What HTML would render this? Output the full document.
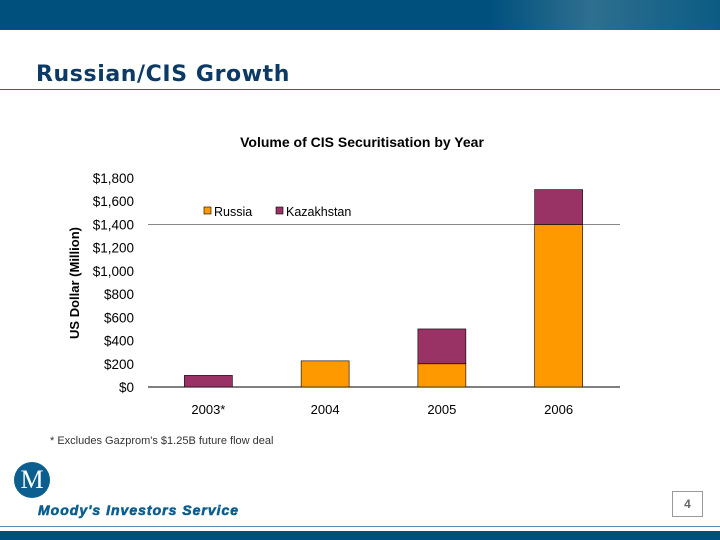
<!DOCTYPE html>
<html><head><meta charset="utf-8"><style>
body{margin:0;width:720px;height:540px;background:#fff;position:relative;overflow:hidden;font-family:"Liberation Sans",sans-serif}
.abs{position:absolute}
</style></head><body>
<div class="abs" style="left:0;top:0;width:720px;height:30px;background:linear-gradient(90deg,#00507e 0%,#00507e 68%,#2f6f8f 82%,#0b5c84 100%)"></div>
<div class="abs" style="left:36px;top:62px;font-family:'DejaVu Sans',sans-serif;font-weight:bold;font-size:22px;letter-spacing:0.6px;color:#0b3a66">Russian/CIS Growth</div>
<div class="abs" style="left:0;top:89px;width:720px;height:1px;background:#2a6a86"></div>
<svg class="abs" style="left:0;top:0" width="720" height="540">
<text x="362" y="147" text-anchor="middle" font-size="14" font-weight="bold" fill="#000">Volume of CIS Securitisation by Year</text>
<text transform="translate(79,283) rotate(-90)" text-anchor="middle" font-size="13" font-weight="bold">US Dollar (Million)</text>
<g id="ticks"></g><g id="bars"></g>
<g>
<rect x="204" y="207" width="7" height="7" fill="#ff9900" stroke="#000" stroke-width="0.6"/>
<text x="214" y="216" font-size="12.5">Russia</text>
<rect x="276" y="207" width="7" height="7" fill="#993366" stroke="#000" stroke-width="0.6"/>
<text x="286" y="216" font-size="12.5">Kazakhstan</text>
</g>
</svg>
<div class="abs" style="left:50px;top:435px;font-size:11px;color:#333">* Excludes Gazprom's $1.25B future flow deal</div>
<div class="abs" style="left:14px;top:462px;width:36px;height:36px;border-radius:50%;background:#0b5e8e;color:#fff;font-family:'Liberation Serif',serif;font-size:26px;text-align:center;line-height:36px">M</div>
<div class="abs" style="left:38px;top:502px;font-size:14px;font-weight:bold;font-style:italic;letter-spacing:1px;color:#0b5e8e;-webkit-text-stroke:0.6px #0b5e8e">Moody's Investors Service</div>
<div class="abs" style="left:672px;top:491px;width:29px;height:24px;border:1px solid #999;text-align:center;line-height:24px;font-size:12px;font-weight:bold;color:#666">4</div>
<div class="abs" style="left:0;top:526px;width:720px;height:1px;background:#5b8aa6"></div>
<div class="abs" style="left:0;top:531px;width:720px;height:9px;background:#00507e"></div>
<script>
const categories=["2003*","2004","2005","2006"];
const russia=[0,225,200,1400];
const kazakhstan=[100,0,300,300];
const tickValues=[0,200,400,600,800,1000,1200,1400,1600,1800];
const tickLabels=["$0","$200","$400","$600","$800","$1,000","$1,200","$1,400","$1,600","$1,800"];
const NS="http://www.w3.org/2000/svg";
const x0=150,x1=617,y0=387,yTop=178,vMax=1800;
const y=v=>y0-(v/vMax)*(y0-yTop);
const band=(x1-x0)/categories.length;
const xc=i=>x0+band*(i+0.5);
function mk(t,a,p){const e=document.createElementNS(NS,t);for(const k in a)e.setAttribute(k,a[k]);p.appendChild(e);return e;}
const tg=document.getElementById('ticks'),bg=document.getElementById('bars');
tickValues.forEach((v,i)=>{const t=mk('text',{x:134,y:y(v)+5,'text-anchor':'end','font-size':13.5},tg);t.textContent=tickLabels[i];

});
const gl=mk('line',{x1:148,x2:620,y1:y(1400),y2:y(1400),stroke:'#888','stroke-width':1},tg);


const ax=mk('line',{x1:148,x2:620,y1:y0,y2:y0,stroke:'#000','stroke-width':1},tg);


categories.forEach((c,i)=>{const t=mk('text',{x:xc(i),y:414,'text-anchor':'middle','font-size':13},tg);t.textContent=c;


const w=48;
if(russia[i]>0){const r=mk('rect',{x:xc(i)-w/2,y:y(russia[i]),width:w,height:y0-y(russia[i]),fill:'#ff9900',stroke:'#000','stroke-width':0.6},bg);

}
if(kazakhstan[i]>0){const tot=russia[i]+kazakhstan[i];const r=mk('rect',{x:xc(i)-w/2,y:y(tot),width:w,height:y(russia[i])-y(tot),fill:'#993366',stroke:'#000','stroke-width':0.6},bg);

}
});
</script>
</body></html>
